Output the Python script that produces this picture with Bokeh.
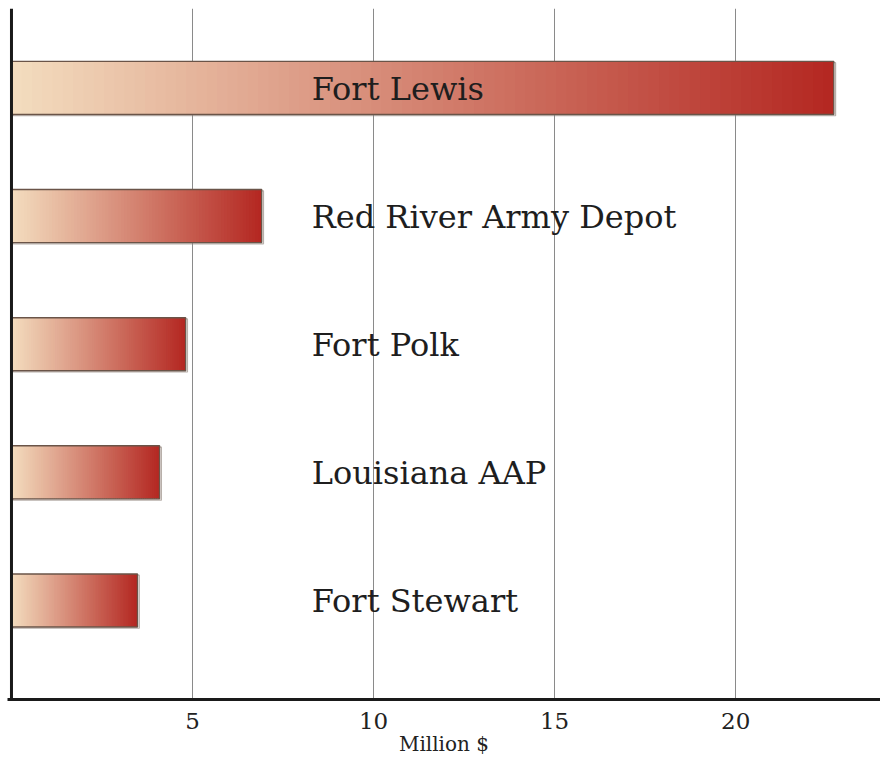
from bokeh.plotting import figure
from bokeh.models import Range1d, FixedTicker, Span, ColumnDataSource
from bokeh.core.properties import value
from bokeh.embed import file_html
from bokeh.resources import INLINE

# ---- data ----
sites = ["Fort Stewart", "Louisiana AAP", "Fort Polk", "Red River Army Depot", "Fort Lewis"]
amounts = [3.48, 4.09, 4.81, 6.91, 22.71]   # million $
x_ticks = [5, 10, 15, 20]
x_label = "Million $"

# ---- style ----
c_start = (243, 220, 190)
c_end = (180, 40, 34)
bar_h = 0.414
label_x = 8.29
n_slices = 80

p = figure(width=880, height=759, output_backend="svg", toolbar_location=None,
           x_range=Range1d(-0.11, 24.0), y_range=Range1d(-0.773, 4.62),
           min_border_left=7, min_border_right=0, min_border_top=8, min_border_bottom=60)
p.outline_line_color = None
p.background_fill_color = "white"
p.border_fill_color = "white"

# gradient slices
L, R, B, T, C = [], [], [], [], []
for i, v in enumerate(amounts):
    step = v / n_slices
    for k in range(n_slices):
        t = k / (n_slices - 1)
        col = tuple(int(round(c_start[j] + (c_end[j] - c_start[j]) * t)) for j in range(3))
        L.append(k * step)
        R.append(min(v, (k + 1.6) * step))
        B.append(i - bar_h / 2)
        T.append(i + bar_h / 2)
        C.append("#%02x%02x%02x" % col)
p.quad(left=L, right=R, bottom=B, top=T, fill_color=C, line_color=None)

# shadow + outline
ys = list(range(len(sites)))
p.quad(left=[0.05] * len(ys), right=[v + 0.05 for v in amounts],
       bottom=[y - bar_h / 2 - 0.01 for y in ys], top=[y + bar_h / 2 - 0.01 for y in ys],
       fill_color=None, line_color="#b8b0aa", line_width=1.2, level="underlay")
p.quad(left=[0] * len(ys), right=amounts,
       bottom=[y - bar_h / 2 for y in ys], top=[y + bar_h / 2 for y in ys],
       fill_color=None, line_color="#6a5448", line_width=1.4)

# labels
src = ColumnDataSource(dict(x=[label_x] * len(sites), y=ys, t=sites))
p.text(x="x", y="y", text="t", source=src, text_font=value("DejaVu Serif"),
       text_font_size="32px", text_color="#1e1e1e", text_baseline="middle", y_offset=1)

# grid / axes
p.ygrid.visible = False
p.yaxis.visible = False
p.xgrid.ticker = FixedTicker(ticks=x_ticks)
p.xgrid.grid_line_color = "#8a8a8a"
p.xgrid.grid_line_width = 1
p.xaxis.ticker = FixedTicker(ticks=x_ticks)
p.xaxis.axis_line_width = 3
p.xaxis.axis_line_color = "#1a1a1a"
p.xaxis.major_tick_line_color = None
p.xaxis.minor_tick_line_color = None
p.xaxis.major_label_text_font = "DejaVu Serif"
p.xaxis.major_label_text_font_size = "23px"
p.xaxis.major_label_text_color = "#222222"
p.xaxis.major_label_standoff = 7
p.xaxis.axis_label = x_label
p.xaxis.axis_label_text_font = "DejaVu Serif"
p.xaxis.axis_label_text_font_size = "20px"
p.xaxis.axis_label_text_font_style = "normal"
p.xaxis.axis_label_text_color = "#222222"
p.xaxis.axis_label_standoff = 0

p.add_layout(Span(location=0, dimension="height", line_color="#1a1a1a", line_width=3))

open("out.html", "w").write(file_html(p, INLINE))
